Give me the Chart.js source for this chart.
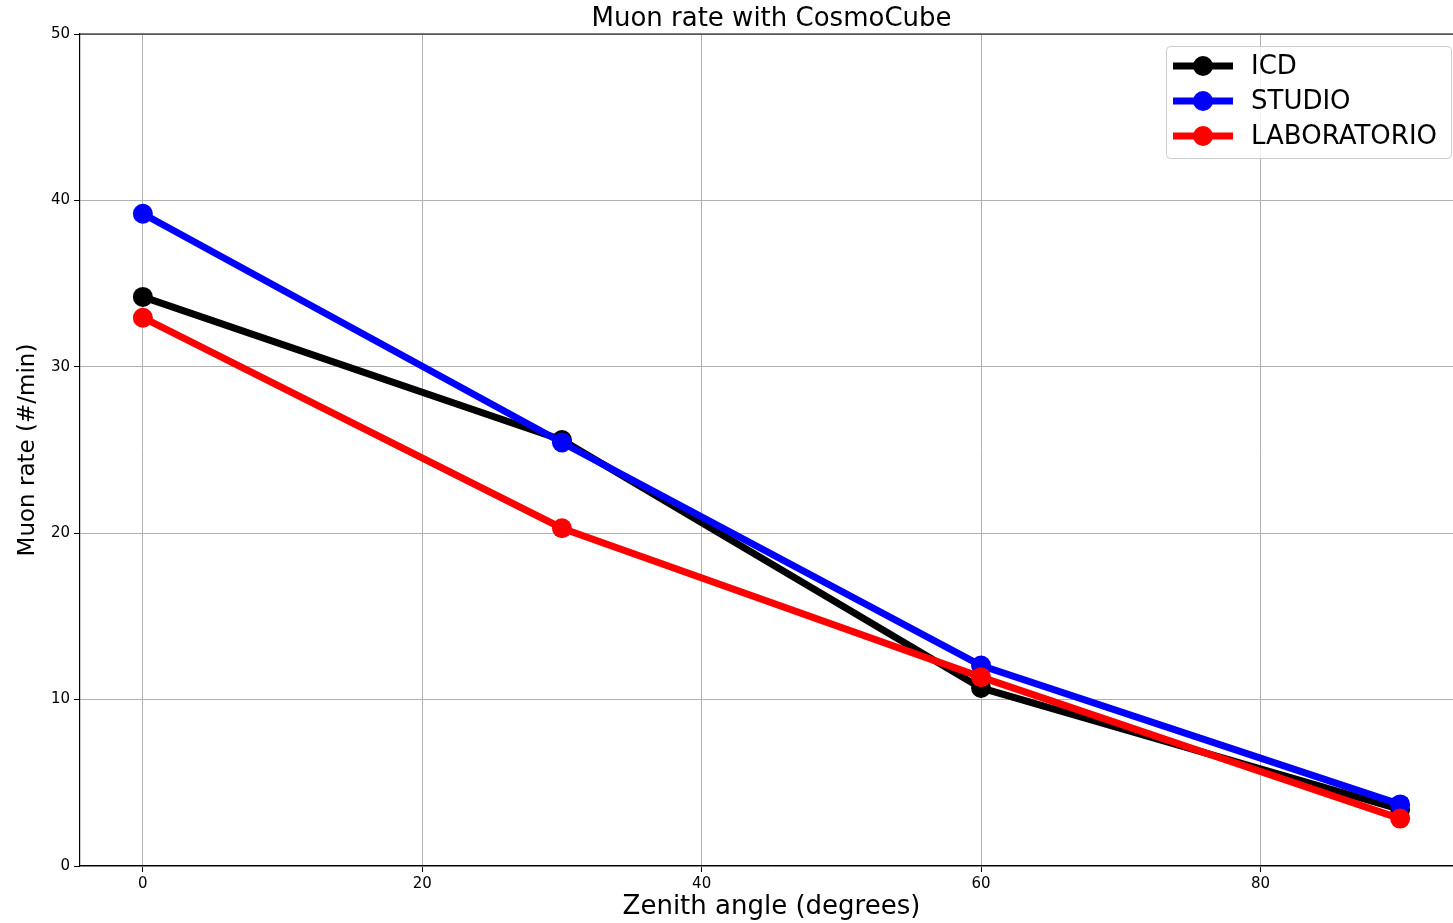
<!DOCTYPE html>
<html>
<head>
<meta charset="utf-8">
<script src="https://cdn.jsdelivr.net/npm/chart.js@4.4.1/dist/chart.umd.min.js"></script>
<style>
  html, body { margin: 0; padding: 0; background: #fff; overflow: hidden; }
  #wrap { width: 1453px; height: 923px; overflow: hidden; }
</style>
</head>
<body>
<div id="wrap"><canvas id="muonChart" width="1473" height="923"></canvas></div>
<script>
// zenith angles (degrees)
var angles = [0, 30, 60, 90];
// muon rate (#/min) per location
var icd = [34.2, 25.6, 10.7, 3.4];
var studio = [39.2, 25.45, 12.05, 3.7];
var laboratorio = [32.95, 20.3, 11.35, 2.85];

var xTicks = [0, 20, 40, 60, 80];
var yTicks = [0, 10, 20, 30, 40, 50];

var FONT = "'DejaVu Sans', sans-serif";

function toPoints(vals) {
	var pts = [];
	for (var i in angles) {
		pts.push({ x: angles[i], y: vals[i] });
	}
	return pts;
}

function series(label, color, vals, order) {
	return {
		label: label,
		data: toPoints(vals),
		borderColor: color,
		backgroundColor: color,
		pointBackgroundColor: color,
		pointBorderColor: color,
		borderWidth: 7,
		pointRadius: 10,
		pointHoverRadius: 10,
		pointBorderWidth: 0,
		tension: 0,
		order: order
	};
}

// title, top spine and matplotlib style legend
var decorations = {
	id: 'decorations',
	afterDraw: function(chart) {
		var ctx = chart.ctx;
		var a = chart.chartArea;
		ctx.save();
		// top spine
		ctx.strokeStyle = '#000';
		ctx.lineWidth = 1.2;
		ctx.beginPath();
		ctx.moveTo(a.left, a.top);
		ctx.lineTo(a.right, a.top);
		ctx.stroke();

		// title
		ctx.fillStyle = '#000';
		ctx.font = '26px ' + FONT;
		ctx.textAlign = 'center';
		ctx.textBaseline = 'middle';
		ctx.fillText('Muon rate with CosmoCube', (a.left + a.right) / 2, 19);

		// legend
		var bx = 1166, by = 46, bw = 285, bh = 112;
		ctx.fillStyle = 'rgba(255,255,255,0.8)';
		ctx.strokeStyle = '#cccccc';
		ctx.lineWidth = 1;
		ctx.beginPath();
		ctx.roundRect(bx + 0.5, by + 0.5, bw, bh, 4);
		ctx.fill();
		ctx.stroke();
		var ds = chart.data.datasets;
		ctx.font = '26px ' + FONT;
		ctx.textAlign = 'left';
		for (var i = 0; i < ds.length; i++) {
			var yy = 66 + i * 35;
			ctx.strokeStyle = ds[i].borderColor;
			ctx.lineWidth = 7;
			ctx.beginPath();
			ctx.moveTo(1173, yy);
			ctx.lineTo(1233, yy);
			ctx.stroke();
			ctx.fillStyle = ds[i].borderColor;
			ctx.beginPath();
			ctx.arc(1203, yy, 10, 0, Math.PI * 2);
			ctx.fill();
			ctx.fillStyle = '#000';
			ctx.fillText(ds[i].label, 1251, yy + 1);
		}
		ctx.restore();
	}
};

var ctx = document.getElementById('muonChart');

var lineChart = new Chart(ctx, {
	type: 'line',
	data: {
		datasets: [
			series('ICD', '#000000', icd, 3),
			series('STUDIO', '#0000ff', studio, 2),
			series('LABORATORIO', '#ff0000', laboratorio, 1)
		]
	},
	options: {
		responsive: false,
		animation: false,
		devicePixelRatio: 1,
		layout: { padding: { top: 34, right: 4, left: 0, bottom: 0 } },
		plugins: {
			legend: { display: false },
			title: { display: false },
			tooltip: { enabled: false }
		},
		scales: {
			x: {
				type: 'linear',
				min: -4.5,
				max: 94.5,
				afterBuildTicks: function(scale) {
					scale.ticks = xTicks.map(function(v) { return { value: v }; });
				},
				afterFit: function(scale) { scale.height = 57; },
				grid: {
					color: '#b0b0b0',
					lineWidth: 1,
					tickColor: '#000',
					tickLength: 6
				},
				border: { color: '#000', width: 1.2 },
				ticks: {
					color: '#000',
					font: { family: FONT, size: 15 },
					padding: 3,
					maxRotation: 0
				},
				title: {
					display: true,
					text: 'Zenith angle (degrees)',
					color: '#000',
					font: { family: FONT, size: 26 },
					padding: { top: 0, bottom: 0 }
				}
			},
			y: {
				min: 0,
				max: 50,
				afterBuildTicks: function(scale) {
					scale.ticks = yTicks.map(function(v) { return { value: v }; });
				},
				afterFit: function(scale) { scale.width = 80; },
				grid: {
					color: '#b0b0b0',
					lineWidth: 1,
					tickColor: '#000',
					tickLength: 6
				},
				border: { color: '#000', width: 1.2 },
				ticks: {
					color: '#000',
					font: { family: FONT, size: 15 },
					padding: 4
				},
				title: {
					display: true,
					text: 'Muon rate (#/min)',
					color: '#000',
					font: { family: FONT, size: 23 },
					padding: { top: 14, bottom: 0 }
				}
			}
		}
	},
	plugins: [decorations]
});
</script>
</body>
</html>
